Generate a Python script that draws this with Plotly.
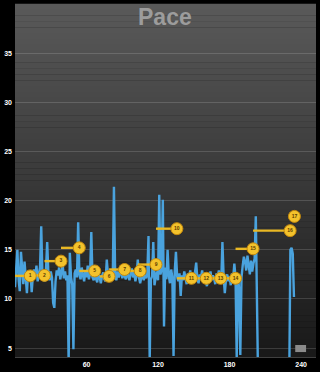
import plotly.graph_objects as go

# ---- data ----
pace = [
    11.2, 13.5, 15.0, 12.0, 10.8, 14.8, 12.5, 11.5, 13.8, 12.2, 10.6, 12.8, 11.8,
    12.6, 10.7, 12.4, 13.0, 12.2, 13.4, 11.8, 12.6, 13.2, 17.4, 12.4, 12.0,
    11.8, 13.0, 15.8, 12.6, 11.9, 12.8, 12.2, 9.6, 9.1, 11.8, 12.9, 12.4, 13.2, 12.0,
    12.6, 13.5, 12.1, 12.8, 11.9, 12.4, 3.5, 14.7, 12.2, 11.5, 4.9, 12.6, 13.0, 12.2, 17.8, 12.5,
    12.0, 13.2, 12.4, 11.8, 12.9, 12.2, 13.4, 12.0, 12.6, 16.8, 12.2, 11.9,
    12.4, 12.0, 11.7, 12.8, 12.2, 11.6, 12.3, 12.7, 12.0, 11.8, 14.0, 12.4,
    12.1, 12.9, 12.3, 12.0, 21.4, 12.6, 11.9, 12.8, 12.2, 12.5, 13.0, 12.1, 12.7, 12.3,
    12.0, 12.8, 12.4, 11.9, 12.6, 13.1, 12.2, 12.7, 11.8, 12.4, 14.0, 12.2, 11.6,
    12.3, 12.8, 11.9, 12.5, 12.1, 12.6, 16.4, 3.8, 12.0, 12.3, 15.8, 11.4, 12.2,
    12.8, 11.9, 20.6, 12.5, 13.0, 20.1, 7.2, 13.2, 12.0, 15.0, 12.4, 11.6, 13.0, 12.2, 4.2, 12.8, 14.8, 12.3,
    11.8, 12.6, 10.3, 12.4, 11.9, 12.8, 12.2, 11.5, 12.6, 12.0, 12.9, 11.8, 12.4, 12.1,
    12.7, 13.7, 12.0, 11.6, 12.5, 12.2, 12.9, 11.8, 12.4, 12.0, 11.3, 12.6, 12.2, 12.8, 11.9, 12.4, 12.1, 11.5, 12.6, 12.2,
    12.9, 12.0, 11.7, 15.8, 12.3, 10.6, 12.0, 12.5, 11.8, 12.3, 11.4, 12.6, 12.1, 13.6, 12.2,
    4.0, 12.4, 11.0, 4.3, 12.2, 13.4, 14.3, 13.8, 12.9, 14.4, 13.2, 12.5, 13.9, 12.8, 13.6, 14.1, 18.4, 1.0,
    1.0, 1.0, 1.0, 1.0, 1.0, 1.0, 1.0, 1.0, 1.0, 1.0, 1.0, 1.0, 1.0, 1.0, 1.0, 1.0, 1.0, 1.0,
    1.0, 1.0, 1.0, 1.0, 1.0, 1.0, 1.0, 1.0, 1.0,
    15.0, 15.2, 14.6, 10.2,
]
distance = list(range(len(pace)))

lap_labels = [str(i) for i in range(1, 18)]
lap_start = [0, 12.8, 24.7, 38.6, 53.9, 71, 78.9, 94.5, 103, 118.3, 135.8, 148, 160.5, 172.5, 185, 199.7, 234.4]
lap_end = [12.8, 24.7, 38.6, 53.9, 66.9, 78.9, 91.9, 105, 118.3, 135.8, 148, 160.5, 172.5, 185, 199.7, 230.8, 234.4]
lap_pace = [12.35, 12.4, 13.85, 15.2, 12.85, 12.3, 13.0, 12.85, 13.5, 17.15, 12.1, 12.1, 12.1, 12.1, 15.1, 16.95, 18.4]

x_ticks = [60, 120, 180, 240]
y_ticks = [5, 10, 15, 20, 25, 30, 35]

fig = go.Figure()

# pace line
fig.add_trace(go.Scatter(
    x=distance, y=pace, mode="lines",
    line=dict(color="#4aa3de", width=2.4),
    hoverinfo="skip", showlegend=False,
))

# lap lines
for s, e, p in zip(lap_start, lap_end, lap_pace):
    if e > s:
        fig.add_trace(go.Scatter(
            x=[s, e], y=[p, p], mode="lines",
            line=dict(color="#e9b824", width=2.4),
            hoverinfo="skip", showlegend=False,
        ))

# lap markers
fig.add_trace(go.Scatter(
    x=lap_end, y=lap_pace, mode="markers+text",
    marker=dict(size=12, color="#f3c22c", line=dict(color="#c68a0c", width=1)),
    text=lap_labels, textposition="middle center",
    textfont=dict(size=5, color="#5a3b00", family="Liberation Sans", weight="bold"),
    hoverinfo="skip", showlegend=False,
))

# gradient background of the plot area
shapes = []
n = 60
top = (90, 90, 90)
bot = (24, 24, 24)
for i in range(n):
    t = (i + 0.5) / n
    c = tuple(int(round(top[k] + (bot[k] - top[k]) * t)) for k in range(3))
    shapes.append(dict(
        type="rect", xref="paper", yref="paper",
        x0=0, x1=1, y0=1 - (i + 1) / n, y1=1 - i / n + 0.001,
        fillcolor="rgb(%d,%d,%d)" % c, line=dict(width=0), layer="below",
    ))
# small widget at bottom right
shapes.append(dict(
    type="rect", xref="paper", yref="paper",
    x0=0.931, x1=0.967, y0=0.014, y1=0.034,
    fillcolor="#8a8a8a", line=dict(width=0), layer="above",
))

fig.update_layout(
    width=320, height=372,
    margin=dict(l=13, r=4, t=4, b=14),
    paper_bgcolor="black",
    plot_bgcolor="rgba(0,0,0,0)",
    shapes=shapes,
    showlegend=False,
    annotations=[dict(
        text="<b>Pace</b>", xref="paper", yref="paper",
        x=0.497, y=0.962, xanchor="center", yanchor="middle",
        showarrow=False,
        font=dict(size=23, color="#9c9c9c", family="Liberation Sans"),
    )],
    xaxis=dict(
        range=[0, 252.5], tickvals=x_ticks, ticktext=[str(v) for v in x_ticks],
        showgrid=False, zeroline=False, showline=True,
        linecolor="rgba(255,255,255,0.25)", linewidth=1,
        tickfont=dict(size=7, color="white", family="Liberation Sans", weight="bold"),
        ticks="", ticklabelstandoff=1,
    ),
    yaxis=dict(
        range=[4.1, 40], tickvals=y_ticks, ticktext=[str(v) for v in y_ticks],
        showgrid=True, gridcolor="rgba(255,255,255,0.15)", gridwidth=1,
        zeroline=False, showline=False,
        tickfont=dict(size=7, color="white", family="Liberation Sans", weight="bold"),
        ticks="", ticklabelstandoff=2,
    ),
)

fig.write_html("out.html")
